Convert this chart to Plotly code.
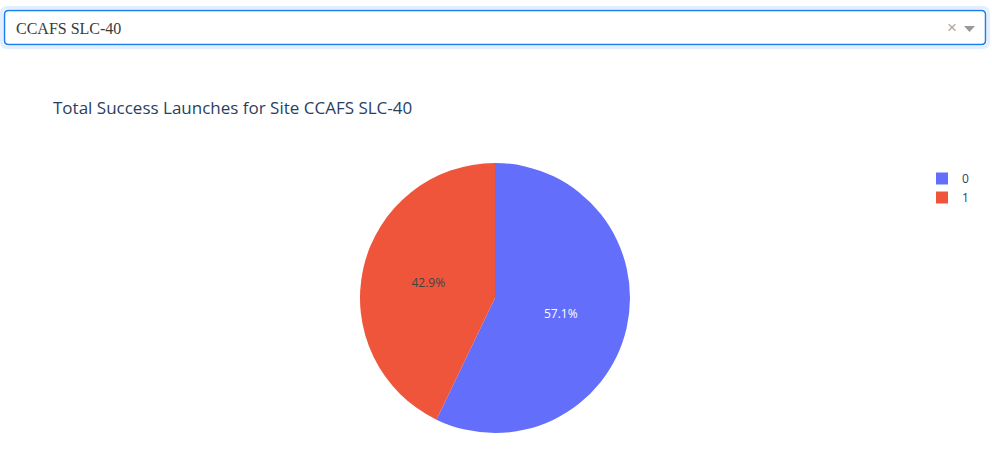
import plotly.graph_objects as go

# Data
classes = ["0", "1"]
counts = [4, 3]
site = "CCAFS SLC-40"
colors = ["#636efa", "#EF553B"]

W, H = 992, 475

def px(x):
    return x / W

def py(y):
    return 1 - y / H

fig = go.Figure()
fig.add_trace(go.Pie(
    labels=classes, values=counts,
    marker=dict(colors=colors),
    textinfo="percent", sort=True,
    domain=dict(x=[px(360), px(630)], y=[py(433), py(163)]),
))

# Dropdown box (drawn as shapes)
def rounded_rect(x0, y0, x1, y1, r):
    X0, X1 = px(x0), px(x1)
    Y0, Y1 = py(y0), py(y1)
    rx, ry = r / W, r / H
    return (f"M {X0+rx},{Y0} L {X1-rx},{Y0} Q {X1},{Y0} {X1},{Y0-ry} "
            f"L {X1},{Y1+ry} Q {X1},{Y1} {X1-rx},{Y1} L {X0+rx},{Y1} "
            f"Q {X0},{Y1} {X0},{Y1+ry} L {X0},{Y0-ry} Q {X0},{Y0} {X0+rx},{Y0} Z")

shapes = [
    dict(type="path", xref="paper", yref="paper", path=rounded_rect(1.5, 7.5, 988.5, 47.5, 6),
         line=dict(color="#e3efff", width=3), fillcolor="rgba(0,0,0,0)", layer="above"),
    dict(type="path", xref="paper", yref="paper", path=rounded_rect(4.5, 10.5, 985.5, 44.5, 4),
         line=dict(color="#1a7ff0", width=1.5), fillcolor="white", layer="above"),
    dict(type="path", xref="paper", yref="paper",
         path=f"M {px(964)},{py(26)} L {px(975)},{py(26)} L {px(969.5)},{py(32)} Z",
         line=dict(width=0), fillcolor="#999999", layer="above"),
]

annotations = [
    dict(text=site, x=px(14), y=py(28), xref="paper", yref="paper", xanchor="left", yanchor="middle",
         showarrow=False, font=dict(family="Liberation Serif", size=16, color="#3a3a3a")),
    dict(text="×", x=px(952), y=py(27.5), xref="paper", yref="paper", xanchor="center", yanchor="middle",
         showarrow=False, font=dict(family="Arial", size=17, color="#aaaaaa")),
    dict(text=f"Total Success Launches for Site {site}", x=px(51), y=py(108), xref="paper", yref="paper",
         xanchor="left", yanchor="middle", showarrow=False,
         font=dict(family="Open Sans", size=17, color="#2a3f5f")),
]

fig.update_layout(
    template="plotly",
    width=W, height=H,
    margin=dict(l=0, r=0, t=0, b=0),
    paper_bgcolor="white", plot_bgcolor="white",
    shapes=shapes, annotations=annotations,
    legend=dict(x=px(922), y=py(164), xanchor="left", yanchor="top",
                font=dict(family="Open Sans", size=12, color="#2a3f5f")),
    font=dict(family="Open Sans", size=12),
)

fig.write_html("out.html")
